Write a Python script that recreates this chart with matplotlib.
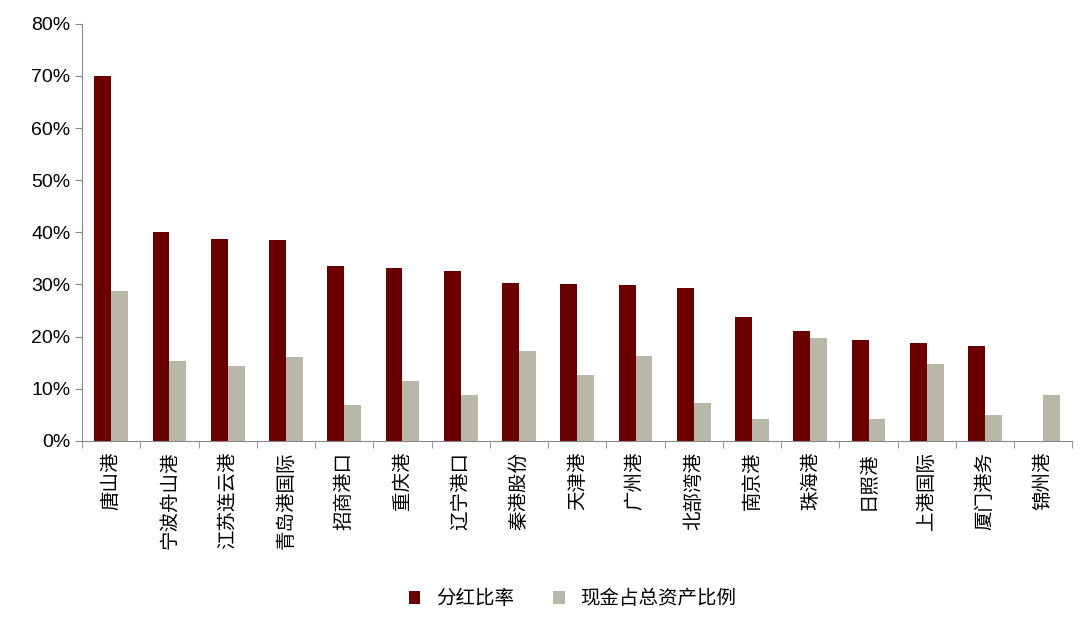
import numpy as np
import matplotlib.pyplot as plt

plt.rcParams['font.family'] = ['Noto Sans CJK SC', 'DejaVu Sans']

ports = ["唐山港", "宁波舟山港", "江苏连云港", "青岛港国际", "招商港口", "重庆港", "辽宁港口",
         "秦港股份", "天津港", "广州港", "北部湾港", "南京港", "珠海港", "日照港", "上港国际",
         "厦门港务", "锦州港"]
dividend = [70.0, 40.0, 38.8, 38.5, 33.6, 33.1, 32.5, 30.2, 30.0, 29.8, 29.4, 23.8, 21.0,
            19.4, 18.8, 18.1, 0.0]
cash_ratio = [28.8, 15.4, 14.4, 16.0, 6.9, 11.5, 8.8, 17.3, 12.7, 16.3, 7.3, 4.2, 19.8,
              4.2, 14.8, 5.0, 8.8]

fig = plt.figure(figsize=(10.8, 6.27), dpi=100)
ax = fig.add_axes([0.076, 0.297, 0.917, 0.665])

x = np.arange(len(ports))
w = 0.29
ax.bar(x - w / 2, dividend, w, color="#6B0000", label="分红比率")
ax.bar(x + w / 2, cash_ratio, w, color="#B9B8A8", label="现金占总资产比例")

ax.set_xlim(-0.5, len(ports) - 0.5)
ax.set_ylim(0, 80)
ax.set_yticks(range(0, 81, 10))
ax.set_yticklabels([f"{v}%" for v in range(0, 81, 10)], fontsize=14, family="Liberation Sans")
ax.set_xticks(x)
ax.set_xticklabels(ports, rotation=90, fontsize=14)
ax.set_xticks(np.arange(-0.5, len(ports)), minor=True)
ax.tick_params(axis="x", which="major", length=0, pad=8)
ax.tick_params(axis="x", which="minor", length=5, color="#888888")
ax.tick_params(axis="y", length=5, color="#888888")
for s in ["top", "right"]:
    ax.spines[s].set_visible(False)
for s in ["left", "bottom"]:
    ax.spines[s].set_color("#888888")

fig.legend(loc="lower center", bbox_to_anchor=(0.53, 0.0), ncol=2, frameon=False,
           fontsize=14, handlelength=0.6, handleheight=0.6, columnspacing=2.0)

fig.savefig("out.png", dpi=100)
